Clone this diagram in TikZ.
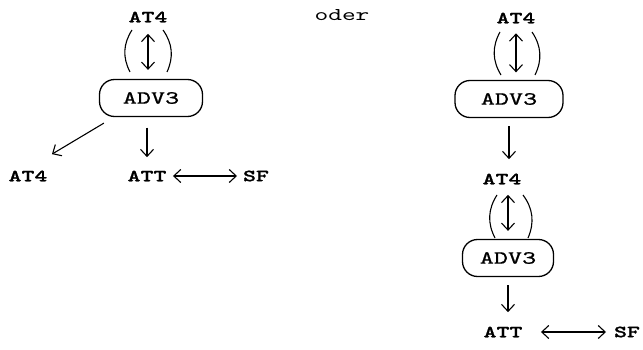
\documentclass[tikz,border=0pt]{standalone}
\usepackage{fontspec}
\setmonofont{lmmono10-regular.otf}[BoldFont=lmmonolt10-bold.otf,
  BoldFeatures={FakeBold=1.2},FakeStretch=1.45]
\newfontfamily\boxfont{lmmono10-regular.otf}[FakeBold=0.9,FakeStretch=1.45]
\usetikzlibrary{positioning,arrows.meta}

\begin{document}
\begin{tikzpicture}[x=1pt,y=-1pt,on grid,line width=1.1pt,
    >={Straight Barb[length=7pt,width=13pt]},
    lbl/.style={font=\ttfamily\bfseries\fontsize{17}{17}\selectfont,inner sep=2pt},
    rule/.style={draw,line width=1.3pt,rounded corners=15pt,minimum height=37pt,
                 font=\boxfont\fontsize{18.5}{19}\selectfont,inner sep=0pt},
    gap/.style={shorten <=#1,shorten >=#1}]
   \useasboundingbox (0,0) rectangle (643,350);

   % first reading
   \node[lbl] (topL) at (148,17)                          {AT4};
   \node[rule,minimum width=103pt] (advL) [below=81pt of topL,xshift=3pt] {ADV3};
   \node[lbl] (attL) [below=78pt of advL,xshift=-4pt]     {ATT};
   \node[lbl] (at4L) [left=119pt of attL]                 {AT4};
   \node[lbl] (sfL)  [right=109pt of attL]                {SF};

   \node[font=\ttfamily\fontsize{18}{18}\selectfont] (oder) at (342,15) {oder};

   % second reading
   \node[lbl] (topR) at (516,18)                          {AT4};
   \node[rule,minimum width=108pt] (advR) [below=81pt of topR,xshift=-7pt] {ADV3};
   \node[lbl] (midR) [below=80pt of advR,xshift=-7pt]     {AT4};
   \node[rule,minimum width=91pt] (advR2) [below=79pt of midR,xshift=6pt] {ADV3};
   \node[lbl] (attR) [below=74pt of advR2,xshift=-5pt]    {ATT};
   \node[lbl] (sfR)  [right=124pt of attR]                {SF};

   \path[<->]
    (topL.south) edge[gap=9pt] (topL.south |- advL.north)
    (attL.east)  edge[shorten <=4pt,shorten >=3.5pt] (sfL.west)
    (topR.south) edge[gap=7.5pt] (topR.south |- advR.north)
    (advR2.north |- midR.south) edge[gap=8pt] (advR2.north)
    (attR.east)  edge[shorten <=16pt,shorten >=5.5pt] (sfR.west);

   \path[->]
    (attL.north |- advL.south) edge[shorten <=10.5pt,shorten >=11pt] (attL.north)
    ([shift={(5,6)}]advL.south west) edge ([shift={(2,-14)}]at4L.north east)
    (advR.south) edge[shorten <=8pt,shorten >=12pt] (advR.south |- midR.north)
    (advR2.south) edge[shorten <=8pt,shorten >=12pt] (advR2.south |- attR.north);

   % brackets round the two-way arrows
   \draw (132,30) to[bend right=30] (130,72);
   \draw (163,30) to[bend left=30]  (167,72);
   \draw (500,32) to[bend right=30] (501,75);
   \draw (532,32) to[bend left=30]  (535,75);
   \draw (497,195) to[bend right=30] (495,238);
   \draw (523,195) to[bend left=30]  (528,238);
\end{tikzpicture}
\end{document}
